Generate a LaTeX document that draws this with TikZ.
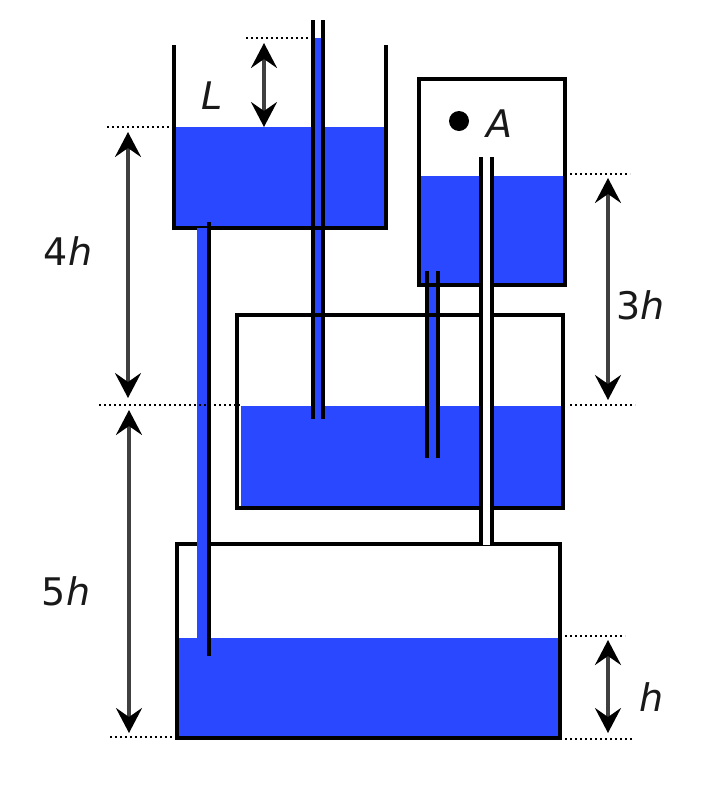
\documentclass[tikz,border=0pt]{standalone}
\usepackage{fontspec}
\setmainfont{DejaVu Sans}
\usetikzlibrary{arrows.meta}
\definecolor{water}{RGB}{41,72,255}
\tikzset{
  wall/.style={draw=black,line width=3.1pt,line cap=butt,line join=miter},
  slim wall/.style={draw=black,line width=3.05pt,line cap=butt,line join=miter},
  level/.style={draw=black,line width=2.4pt,dash pattern=on 2.2pt off 2.8pt},
  measure/.style={draw=black!75,line width=3.4pt,{Stealth[length=25pt,width=26pt,inset=9pt,color=black]}-{Stealth[length=25pt,width=26pt,inset=9pt,color=black]}},
  dim label/.style={inner sep=0pt,anchor=base,font=\fontsize{38}{44}\selectfont,text=black!90},
}
\begin{document}
\begin{tikzpicture}[x=1pt,y=-1pt]
\useasboundingbox (0,0) rectangle (708,804);
\fill[white] (0,0) rectangle (708,804);
% water
\fill[water] (174,127) rectangle (386,228);
\fill[water] (419,176) rectangle (565,285);
\fill[water] (241,406) rectangle (563,508);
\fill[water] (178,638) rectangle (560,735.5);
\fill[water] (313,38) rectangle (322,419);
\fill[water] (427,271) rectangle (438,406);
\fill[water!65!white] (320.5,127) rectangle (322.5,228);
% tanks
\draw[wall] (174,45) -- (174,228) -- (386,228) -- (386,45);
\draw[wall] (419,79) rectangle (565,285);
\draw[slim wall] (237,315) rectangle (563,508);
\draw[slim wall] (177,544) rectangle (560,738);
\draw[wall] (177,738) -- (560,738);
% left tube
\fill[water] (197,228) rectangle (209,656);
% white tube through tanks
\fill[white] (481,157) rectangle (492,545.4);
% tube walls
\draw[wall] (313,20) -- (313,419);
\draw[wall] (323,20) -- (323,419);
\draw[slim wall] (427,271) -- (427,458);
\draw[slim wall] (438,271) -- (438,458);
\draw[wall] (481,157) -- (481,545.4);
\draw[wall] (492,157) -- (492,545.4);
\draw[wall] (209,222) -- (209,656);
% levels
\coordinate (l1a) at (246,38); \coordinate (l1b) at (313,38);
\coordinate (l2a) at (107,127); \coordinate (l2b) at (174,127);
\coordinate (l3a) at (570,174); \coordinate (l3b) at (630,174);
\coordinate (l4a) at (99,405); \coordinate (l4b) at (240,405);
\coordinate (l5a) at (570,405); \coordinate (l5b) at (635,405);
\coordinate (l6a) at (565,636); \coordinate (l6b) at (625,636);
\coordinate (l7a) at (110,737); \coordinate (l7b) at (177,737);
\coordinate (l8a) at (565,739); \coordinate (l8b) at (632,739);
\foreach \a/\b in {l1a/l1b,l2a/l2b,l3a/l3b,l4a/l4b,l5a/l5b,l6a/l6b,l7a/l7b,l8a/l8b}
  \draw[level] (\a) -- (\b);
% measures
\coordinate (mL1) at (264,43); \coordinate (mL2) at (264,127);
\coordinate (m4a) at (128,132); \coordinate (m4b) at (128,398);
\coordinate (m5a) at (129,410); \coordinate (m5b) at (129,733);
\coordinate (m3a) at (608,178); \coordinate (m3b) at (608,400);
\coordinate (mha) at (608,640); \coordinate (mhb) at (608,733);
\draw[measure] (mL1) -- (mL2);
\draw[measure] (m4a) -- (m4b);
\draw[measure] (m5a) -- (m5b);
\draw[measure] (m3a) -- (m3b);
\draw[measure] (mha) -- (mhb);
% point
\node[circle,fill=black,inner sep=0pt,minimum size=20pt] (ptA) at (459,121) {};
% labels
\node[dim label] (tL) at (212,109) {\textit{L}};
\node[dim label] (tA) at (499.5,137) {\textit{A}};
\node[dim label] (t4h) at (68,265) {4\textit{h}};
\node[dim label] (t5h) at (66,605) {5\textit{h}};
\node[dim label] (t3h) at (640.5,319) {3\textit{h}};
\node[dim label] (th) at (651.5,711) {\textit{h}};
\end{tikzpicture}
\end{document}
